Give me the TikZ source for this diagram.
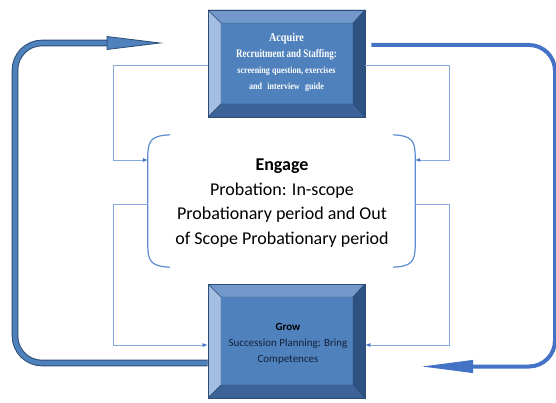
\documentclass[tikz,border=0pt]{standalone}
\usepackage{fontspec}
\setmainfont{Carlito}
\newfontfamily\tnr{Liberation Serif}
\usetikzlibrary{calc,arrows.meta}
\definecolor{face}{HTML}{4F81BD}
\definecolor{bvtop}{HTML}{7399CC}
\definecolor{bvleft}{HTML}{A3BEE0}
\definecolor{bvright}{HTML}{2E5383}
\definecolor{bvbot}{HTML}{3C6499}
\definecolor{edge}{HTML}{2C4D75}
\definecolor{conncol}{HTML}{86AADD}
\definecolor{tipcol}{HTML}{4472C4}
\definecolor{bigblue}{HTML}{4472C4}
\definecolor{bracket}{HTML}{5B8BD0}
\definecolor{navytext}{HTML}{15213B}
\tikzset{
  bevelbox/.style={draw=edge, line width=0.8pt, fill=face, inner sep=0pt,
    minimum width=157pt, minimum height=#1,
    path picture={
      \coordinate (NW) at (path picture bounding box.north west);
      \coordinate (NE) at (path picture bounding box.north east);
      \coordinate (SW) at (path picture bounding box.south west);
      \coordinate (SE) at (path picture bounding box.south east);
      \filldraw[fill=bvtop, draw=edge, line width=0.4pt] (NW) -- (NE) -- ($(NE)+(-12pt,-13pt)$) -- ($(NW)+(13pt,-13pt)$) -- cycle;
      \filldraw[fill=bvleft, draw=edge, line width=0.4pt] (NW) -- ($(NW)+(13pt,-13pt)$) -- ($(SW)+(13pt,13pt)$) -- (SW) -- cycle;
      \filldraw[fill=bvright, draw=edge, line width=0.4pt] (NE) -- (SE) -- ($(SE)+(-12pt,13pt)$) -- ($(NE)+(-12pt,-13pt)$) -- cycle;
      \filldraw[fill=bvbot, draw=edge, line width=0.4pt] (SW) -- (SE) -- ($(SE)+(-12pt,13pt)$) -- ($(SW)+(13pt,13pt)$) -- cycle;
    }},
  conn/.style={draw=conncol, line width=0.7pt, -{Latex[length=5pt,width=4pt,color=tipcol]}},
  bigline/.style={draw=bigblue, line width=4pt, rounded corners=26pt},
  brk/.style={draw=bracket, line width=1.2pt},
}
\newcommand\cnd[2]{\scalebox{#1}[1]{#2}}
\begin{document}
\begin{tikzpicture}[x=1pt,y=-1pt]
\useasboundingbox (0,0) rectangle (556,403);
% boxes
\node[bevelbox=107pt] (acq) at (286.5,63.5) {};
\node[bevelbox=114pt] (grow) at (286.5,341) {};
\node[font=\tnr\bfseries\fontsize{9.5}{16}\selectfont, text=white, align=center] (acqt) at (286.5,62)
  {{\fontsize{12}{16}\selectfont\cnd{0.85}{Acquire}}\\
   {\fontsize{11.5}{16}\selectfont\cnd{0.78}{Recruitment and Staffing:}}\\
   \cnd{0.85}{screening question, exercises}\\
   \cnd{0.85}{and\hspace{4pt} interview\hspace{4pt} guide}};
\node[font=\fontsize{11}{16}\selectfont, text=navytext, align=center] (growt) at (288,344)
  {\textcolor{black}{\textbf{Grow}}\\Succession Planning: Bring\\Competences};
% engage
\node[minimum width=267pt, minimum height=132pt, inner sep=0pt] (eng) at (281.5,201) {};
\node[font=\fontsize{18}{24.5}\selectfont, align=center] (engt) at (282,203)
  {\textbf{Engage}\\Probation: In-scope\\Probationary period and Out\\of Scope Probationary period};
\draw[brk] ([xshift=22pt]eng.north west) .. controls ([xshift=4pt,yshift=-1pt]eng.north west) and ([yshift=-5pt]eng.north west) .. ([yshift=-22pt]eng.north west)
  -- ([yshift=22pt]eng.south west) .. controls ([yshift=5pt]eng.south west) and ([xshift=4pt,yshift=1pt]eng.south west) .. ([xshift=22pt]eng.south west);
\draw[brk] ([xshift=-22pt]eng.north east) .. controls ([xshift=-4pt,yshift=-1pt]eng.north east) and ([yshift=-5pt]eng.north east) .. ([yshift=-22pt]eng.north east)
  -- ([yshift=22pt]eng.south east) .. controls ([yshift=5pt]eng.south east) and ([xshift=-4pt,yshift=1pt]eng.south east) .. ([xshift=-22pt]eng.south east);
% thin connectors
\draw[conn] ([yshift=-1.5pt]acq.west) -- ++(-94pt,0) |- ([yshift=41pt]eng.west);
\draw[conn] ([yshift=-3pt]eng.west) -- ++(-34pt,0) |- ([yshift=-4pt]grow.west);
\draw[conn] ([yshift=-2pt]acq.east) -- ++(84pt,0) |- ([yshift=41pt]eng.east);
\draw[conn] ([yshift=-3pt]eng.east) -- ++(34pt,0) |- ([yshift=-4pt]grow.east);
% big left arrow
\coordinate (ltip) at (160,43);
\coordinate (lbase) at (107,43);
\draw[edge, line width=6.6pt, rounded corners=27pt] ([yshift=-22pt]grow.west) -- (15,363) -- (15,43) -- ([xshift=1pt]lbase);
\draw[face, line width=4.6pt, rounded corners=27pt] ([xshift=-0.8pt,yshift=-22pt]grow.west) -- (15,363) -- (15,43) -- ([xshift=1.5pt]lbase);
\filldraw[fill=face, draw=edge, line width=0.8pt] ([yshift=6.5pt]lbase) -- (ltip) -- ([yshift=-6.5pt]lbase) -- cycle;
% big right arrow
\coordinate (rtip) at (420,366.5);
\draw[bigline, -{Triangle[length=53pt,width=12pt]}] ([xshift=6pt,yshift=18.5pt]acq.east) -- (555,45) -- (555,366.5) -- (rtip);
\end{tikzpicture}
\end{document}
